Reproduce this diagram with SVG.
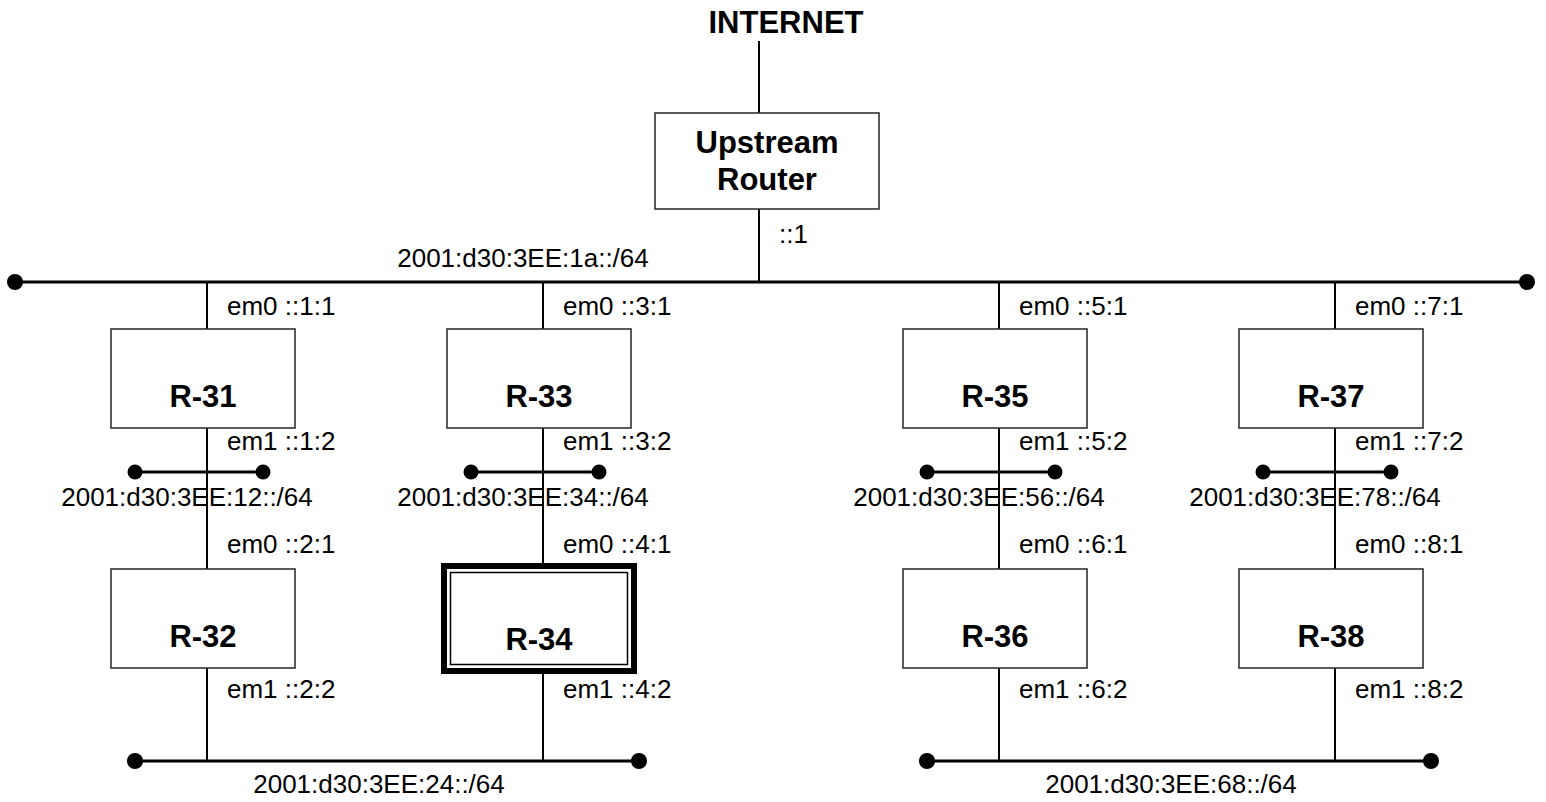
<svg xmlns="http://www.w3.org/2000/svg" width="1546" height="802" viewBox="0 0 1546 802">
<style>
.box{fill:#fff;stroke:#333;stroke-width:1.6}
.bus{stroke:#000;stroke-width:3;fill:none}
.link{stroke:#000;stroke-width:2;fill:none}
.dot{fill:#000}
.b{font-family:"Liberation Sans",Arial,sans-serif;font-weight:bold;font-size:31px;fill:#000;text-anchor:middle}
.t{font-family:"Liberation Sans",Arial,sans-serif;font-size:26px;fill:#000}
.m{text-anchor:middle}
</style>
<rect width="1546" height="802" fill="#fff"/>
<g id="connectors">
  <line class="link" x1="759" y1="41" x2="759" y2="113"/>
  <line class="link" x1="759" y1="209" x2="759" y2="282"/>
  <line class="bus" x1="15" y1="282" x2="1527" y2="282"/>
  <circle class="dot" cx="15" cy="282" r="8"/>
  <circle class="dot" cx="1527" cy="282" r="8"/>
  <!-- column R-31/R-32 -->
  <line class="link" x1="207" y1="282" x2="207" y2="329"/>
  <line class="link" x1="207" y1="428" x2="207" y2="569"/>
  <line class="link" x1="207" y1="668" x2="207" y2="761"/>
  <line class="bus" x1="135" y1="472" x2="263" y2="472"/>
  <circle class="dot" cx="135" cy="472" r="7.5"/>
  <circle class="dot" cx="263" cy="472" r="7.5"/>
  <!-- column R-33/R-34 -->
  <line class="link" x1="543" y1="282" x2="543" y2="329"/>
  <line class="link" x1="543" y1="428" x2="543" y2="566"/>
  <line class="link" x1="543" y1="671" x2="543" y2="761"/>
  <line class="bus" x1="471" y1="472" x2="599" y2="472"/>
  <circle class="dot" cx="471" cy="472" r="7.5"/>
  <circle class="dot" cx="599" cy="472" r="7.5"/>
  <!-- column R-35/R-36 -->
  <line class="link" x1="999" y1="282" x2="999" y2="329"/>
  <line class="link" x1="999" y1="428" x2="999" y2="569"/>
  <line class="link" x1="999" y1="668" x2="999" y2="761"/>
  <line class="bus" x1="927" y1="472" x2="1055" y2="472"/>
  <circle class="dot" cx="927" cy="472" r="7.5"/>
  <circle class="dot" cx="1055" cy="472" r="7.5"/>
  <!-- column R-37/R-38 -->
  <line class="link" x1="1335" y1="282" x2="1335" y2="329"/>
  <line class="link" x1="1335" y1="428" x2="1335" y2="569"/>
  <line class="link" x1="1335" y1="668" x2="1335" y2="761"/>
  <line class="bus" x1="1263" y1="472" x2="1391" y2="472"/>
  <circle class="dot" cx="1263" cy="472" r="7.5"/>
  <circle class="dot" cx="1391" cy="472" r="7.5"/>
  <!-- bottom buses -->
  <line class="bus" x1="135" y1="761" x2="639" y2="761"/>
  <circle class="dot" cx="135" cy="761" r="8"/>
  <circle class="dot" cx="639" cy="761" r="8"/>
  <line class="bus" x1="927" y1="761" x2="1431" y2="761"/>
  <circle class="dot" cx="927" cy="761" r="8"/>
  <circle class="dot" cx="1431" cy="761" r="8"/>
</g>
<g id="labels">
  <text class="t" x="779" y="243">::1</text>
  <text class="t m" x="523" y="267">2001:d30:3EE:1a::/64</text>
  <text class="t" x="227" y="315">em0 ::1:1</text>
  <text class="t" x="227" y="450">em1 ::1:2</text>
  <text class="t m" x="187" y="506">2001:d30:3EE:12::/64</text>
  <text class="t" x="227" y="553">em0 ::2:1</text>
  <text class="t" x="227" y="698">em1 ::2:2</text>
  <text class="t" x="563" y="315">em0 ::3:1</text>
  <text class="t" x="563" y="450">em1 ::3:2</text>
  <text class="t m" x="523" y="506">2001:d30:3EE:34::/64</text>
  <text class="t" x="563" y="553">em0 ::4:1</text>
  <text class="t" x="563" y="698">em1 ::4:2</text>
  <text class="t" x="1019" y="315">em0 ::5:1</text>
  <text class="t" x="1019" y="450">em1 ::5:2</text>
  <text class="t m" x="979" y="506">2001:d30:3EE:56::/64</text>
  <text class="t" x="1019" y="553">em0 ::6:1</text>
  <text class="t" x="1019" y="698">em1 ::6:2</text>
  <text class="t" x="1355" y="315">em0 ::7:1</text>
  <text class="t" x="1355" y="450">em1 ::7:2</text>
  <text class="t m" x="1315" y="506">2001:d30:3EE:78::/64</text>
  <text class="t" x="1355" y="553">em0 ::8:1</text>
  <text class="t" x="1355" y="698">em1 ::8:2</text>
  <text class="t m" x="379" y="793">2001:d30:3EE:24::/64</text>
  <text class="t m" x="1171" y="793">2001:d30:3EE:68::/64</text>
</g>
<g id="internet">
  <text class="b" x="786" y="33">INTERNET</text>
</g>
<g id="upstream">
  <rect class="box" x="655" y="113" width="224" height="96"/>
  <text class="b" x="767" y="153">Upstream</text>
  <text class="b" x="767" y="190">Router</text>
</g>
<g id="r31">
  <rect class="box" x="111" y="329" width="184" height="99"/>
  <text class="b" x="203" y="407">R-31</text>
</g>
<g id="r32">
  <rect class="box" x="111" y="569" width="184" height="99"/>
  <text class="b" x="203" y="647">R-32</text>
</g>
<g id="r33">
  <rect class="box" x="447" y="329" width="184" height="99"/>
  <text class="b" x="539" y="407">R-33</text>
</g>
<g id="r34">
  <rect x="444" y="566" width="190" height="105" fill="#fff" stroke="#000" stroke-width="6"/>
  <rect x="450.5" y="572.5" width="177" height="92" fill="none" stroke="#000" stroke-width="1.5"/>
  <text class="b" x="539" y="650">R-34</text>
</g>
<g id="r35">
  <rect class="box" x="903" y="329" width="184" height="99"/>
  <text class="b" x="995" y="407">R-35</text>
</g>
<g id="r36">
  <rect class="box" x="903" y="569" width="184" height="99"/>
  <text class="b" x="995" y="647">R-36</text>
</g>
<g id="r37">
  <rect class="box" x="1239" y="329" width="184" height="99"/>
  <text class="b" x="1331" y="407">R-37</text>
</g>
<g id="r38">
  <rect class="box" x="1239" y="569" width="184" height="99"/>
  <text class="b" x="1331" y="647">R-38</text>
</g>
</svg>
